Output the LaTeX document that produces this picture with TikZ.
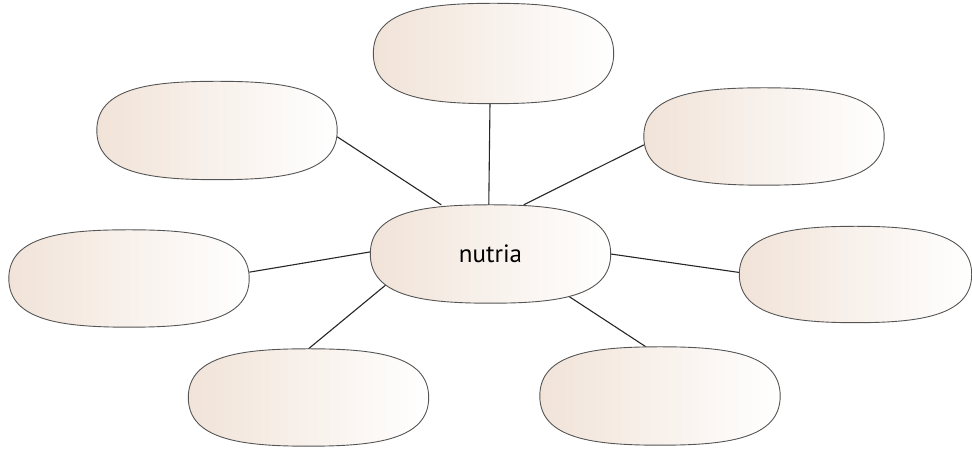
\documentclass[tikz,border=0pt]{standalone}
\usepackage{fontspec}
\setmainfont{PT Sans}
\usetikzlibrary{backgrounds, calc}
\definecolor{pillowtan}{RGB}{241,227,216}
\definecolor{pillowedge}{RGB}{85,85,85}
\tikzset{
  pillow/.style={
    shape=rectangle,
    minimum width=240pt,
    minimum height=98pt,
    inner sep=0pt,
    font=\fontsize{25}{29}\selectfont,
    text=black
  },
  outline/.style={
    draw=pillowedge, line width=0.9pt,
    left color=pillowtan, right color=white
  },
  link/.style={
    draw=black!85, line width=1.1pt
  }
}
\newcommand{\pillowpath}[1]{%
  (#1.west)
  .. controls ([yshift=-6pt]#1.north west) and ([xshift=55pt]#1.north west) .. (#1.north)
  .. controls ([xshift=-55pt]#1.north east) and ([yshift=-6pt]#1.north east) .. (#1.east)
  .. controls ([yshift=6pt]#1.south east) and ([xshift=-55pt]#1.south east) .. (#1.south)
  .. controls ([xshift=55pt]#1.south west) and ([yshift=6pt]#1.south west) .. (#1.west)
  -- cycle}

\begin{document}
\begin{tikzpicture}[x=1pt, y=1pt]
\useasboundingbox (0,0) rectangle (972,449);

% Boxes
\node[pillow, minimum height=100pt] (top) at (493.5,395.5) {};
\node[pillow] (tl) at (217,318.5) {};
\node[pillow, minimum height=97pt] (tr) at (764,312.5) {};
\node[pillow] (c) at (490.5,195) {nutria};
\node[pillow, minimum height=97pt] (l) at (129,170.5) {};
\node[pillow, minimum width=232pt, minimum height=96pt] (r) at (855.5,174.5) {};
\node[pillow, minimum height=97pt] (bl) at (308.5,51.5) {};
\node[pillow] (br) at (660,53) {};

% Links and outlines
\begin{scope}[on background layer]
  \draw[link] (tl.-3) -- (c.135);
  \draw[link] (top.266) -- (c.92);
  \draw[link] (tr.184) -- (c.56);
  \draw[link] (l.3) -- (c.179);
  \draw[link] (c.0) -- (r.179);
  \draw[link] (bl.north) -- ($(bl.north)!1.4!(c.200)$);
  \draw[link] (br.106) -- ($(br.106)!1.4!(c.331)$);
  \foreach \n in {top,tl,tr,c,l,r,bl,br}
    \shade[outline] \pillowpath{\n};
\end{scope}

\end{tikzpicture}
\end{document}
